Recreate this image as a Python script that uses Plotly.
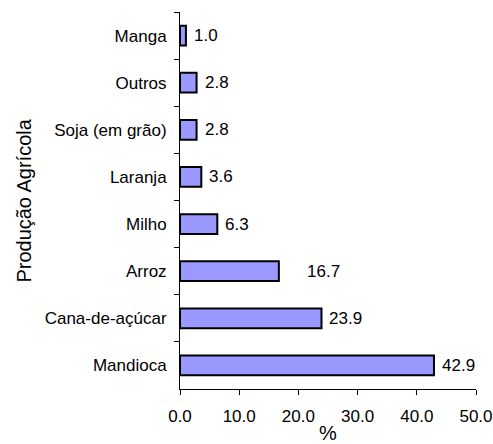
import plotly.graph_objects as go

# Agricultural production shares (%), listed top to bottom
crops = ["Manga", "Outros", "Soja (em grão)", "Laranja", "Milho",
         "Arroz", "Cana-de-açúcar", "Mandioca"]
shares = [1.0, 2.8, 2.8, 3.6, 6.3, 16.7, 23.9, 42.9]
x_ticks = [0, 10, 20, 30, 40, 50]

# extra horizontal offset (px) for individual value labels
label_nudge = {"Arroz": 20}

FONT = "Liberation Sans, Arial, sans-serif"

fig = go.Figure(
    go.Bar(
        x=shares,
        y=crops,
        orientation="h",
        width=0.42,
        marker=dict(color="#9999FF", line=dict(color="black", width=2)),
        hoverinfo="skip",
    )
)

# value labels to the right of each bar
for crop, val in zip(crops, shares):
    fig.add_annotation(
        x=val, y=crop, xref="x", yref="y",
        text=f"{val:.1f}", showarrow=False,
        xanchor="left", yanchor="middle",
        xshift=6 + label_nudge.get(crop, 0),
        font=dict(family=FONT, size=17, color="black"),
    )

# vertical axis title
fig.add_annotation(
    x=-0.530, y=0.5, xref="paper", yref="paper",
    text="Produção Agrícola", showarrow=False, textangle=-90,
    xanchor="center", yanchor="middle",
    font=dict(family=FONT, size=20, color="black"),
)

# horizontal axis title
fig.add_annotation(
    x=0.5, y=0, xref="paper", yref="paper",
    text="%", showarrow=False,
    xanchor="center", yanchor="middle", yshift=-44,
    font=dict(family=FONT, size=20, color="black"),
)

fig.update_layout(
    width=493, height=444,
    margin=dict(l=180, r=17, t=12, b=55),
    paper_bgcolor="white", plot_bgcolor="white",
    showlegend=False,
    font=dict(family=FONT, size=17, color="black"),
    xaxis=dict(
        range=[0, 50], tickvals=x_ticks, tickformat=".1f",
        ticks="outside", ticklen=5, tickcolor="black", tickwidth=1,
        showline=True, linecolor="black", linewidth=1,
        showgrid=False, zeroline=False, fixedrange=True,
        ticklabelstandoff=7, automargin=False,
    ),
    yaxis=dict(
        autorange="reversed",
        tickson="boundaries",
        ticks="outside", ticklen=5, tickcolor="black", tickwidth=1,
        showline=True, linecolor="black", linewidth=1,
        showgrid=False, zeroline=False, fixedrange=True,
        ticklabelstandoff=9, automargin=False,
    ),
)

fig.write_html("out.html")
